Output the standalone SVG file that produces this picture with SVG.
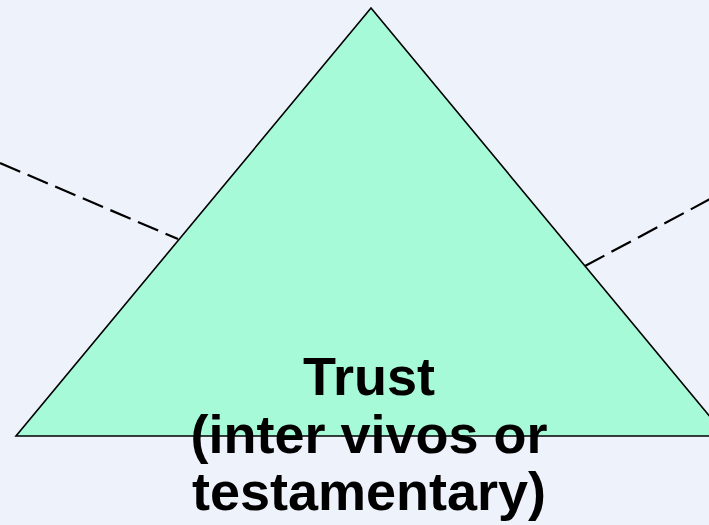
<svg xmlns="http://www.w3.org/2000/svg" width="709" height="525" viewBox="0 0 709 525">
<style>
.dash{fill:none;stroke:#000;stroke-width:2.2;stroke-dasharray:22 8}
.tri{fill:#A6FAD8;stroke:#000;stroke-width:1.6}
.lbl{font-family:"Liberation Sans",Arial,sans-serif;font-weight:bold;font-size:54px;fill:#000;text-anchor:middle}
</style>
<rect width="709" height="525" fill="#EEF2FB"/>
<g id="connectors">
<line class="dash" x1="0" y1="163" x2="178" y2="239"/>
<line class="dash" x1="585" y1="266" x2="712" y2="198"/>
</g>
<g id="trust">
<polygon class="tri" points="371,8 16,436 726,436"/>
<text class="lbl" x="369" y="395">Trust</text>
<text class="lbl" x="369" y="453">(inter vivos or</text>
<text class="lbl" x="369" y="510">testamentary)</text>
</g>
</svg>
